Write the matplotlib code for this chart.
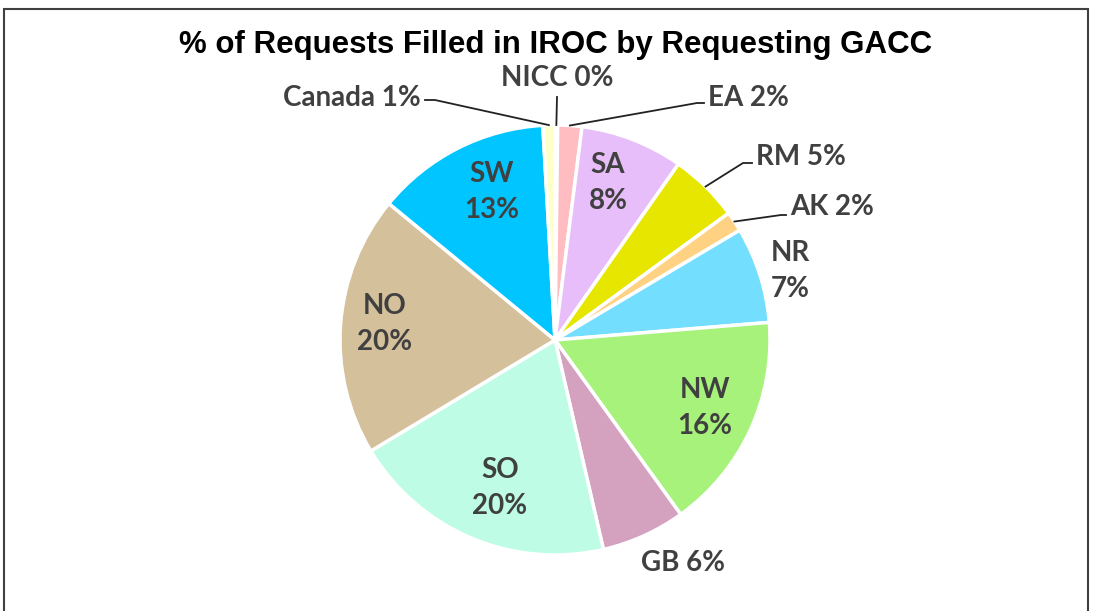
import matplotlib.pyplot as plt
import numpy as np
from matplotlib.patches import Rectangle

# data (clockwise from 12 o'clock)
regions = ["NICC", "EA", "SA", "RM", "AK", "NR", "NW", "GB", "SO", "NO", "SW", "Canada"]
shares = [0.2, 1.8, 7.7, 5.2, 1.5, 7.2, 16.3, 6.3, 19.9, 19.5, 13.1, 0.9]
shown_pct = [0, 2, 8, 5, 2, 7, 16, 6, 20, 20, 13, 1]
colors = ["#FFFFFF", "#FFBDC1", "#E7BDFA", "#E6E600", "#FFD283", "#74DEFF",
          "#A7F27B", "#D4A1BF", "#BEFCE6", "#D4C19B", "#00C5FF", "#FFFFC8"]

W, H = 1093, 611
cx, cy, R = 555, 340, 215

fig = plt.figure(figsize=(W / 100, H / 100), dpi=100)
fig.patches.append(Rectangle((4 / W, -0.1), 1084 / W, (H - 9) / H + 0.1, transform=fig.transFigure,
                             fill=False, edgecolor="#404040", linewidth=1.5))
ax = fig.add_axes([(cx - R) / W, (H - cy - R) / H, 2 * R / W, 2 * R / H])

wedges, _ = ax.pie(shares, colors=colors, startangle=90, counterclock=False, radius=1,
                   wedgeprops=dict(edgecolor="white", linewidth=2.5))
ax.set_xlim(-1, 1)
ax.set_ylim(-1, 1)
ax.axis("off")


def d(px, py):
    # pixel position -> data units of the pie
    return (px - cx) / R, (cy - py) / R


lab_font = dict(family=["Lato", "DejaVu Sans"], fontweight="bold", fontsize=20, color="#404040")

# inside / near labels, two lines
two_line = {"SA": (608, 183), "NR": (790, 271), "NW": (705, 408), "SO": (500, 488),
            "NO": (385, 324), "SW": (492, 192)}
for name, (px, py) in two_line.items():
    i = regions.index(name)
    x, y = d(px, py)
    ax.text(x, y, f"{name}\n{shown_pct[i]}%", ha="center", va="center", linespacing=1.5, **lab_font)

# GB label without leader
i = regions.index("GB")
x, y = d(683, 563)
ax.text(x, y, f"GB {shown_pct[i]}%", ha="center", va="center", **lab_font)

# labels with leader lines: text anchor, ha, leader path (pixels)
leaders = {
    "Canada": ((421, 98), "right", [(435, 100), (425, 100)]),
    "NICC": ((557, 78), "center", [(557, 97)]),
    "EA": ((708, 98), "left", [(697, 103), (704, 103)]),
    "RM": ((756, 157), "left", [(743, 163), (752, 163)]),
    "AK": ((790, 207), "left", [(781, 215), (786, 215)]),
}
for name, ((px, py), ha, path) in leaders.items():
    i = regions.index(name)
    w = wedges[i]
    mid = np.deg2rad((w.theta1 + w.theta2) / 2)
    pts = [(np.cos(mid) * 1.0, np.sin(mid) * 1.0)] + [d(qx, qy) for qx, qy in path]
    ax.plot([p[0] for p in pts], [p[1] for p in pts], color="#222222", linewidth=1.3,
            clip_on=False)
    x, y = d(px, py)
    ax.text(x, y, f"{name} {shown_pct[i]}%", ha=ha, va="center", **lab_font)

fig.text(556 / W, 1 - 45 / H, "% of Requests Filled in IROC by Requesting GACC",
         ha="center", va="center", fontsize=22.5, fontweight="bold",
         family=["Liberation Sans", "DejaVu Sans"], color="black")

fig.savefig("out.png", dpi=100)
